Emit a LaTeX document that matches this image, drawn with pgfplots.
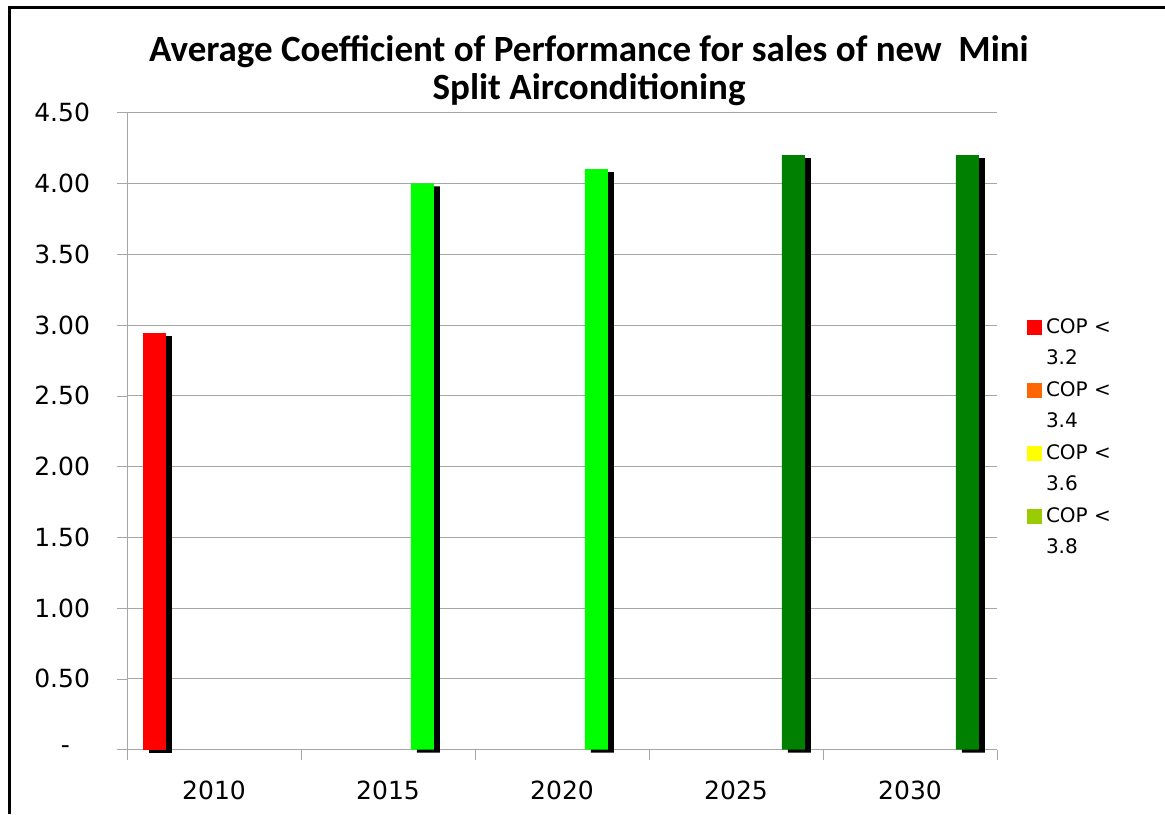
\documentclass[border=0pt]{standalone}
\usepackage{fontspec}
\setmainfont{DejaVu Sans}
\newfontfamily\titlefont{Carlito}
\usepackage{pgfplots}
\pgfplotsset{compat=1.18}
\definecolor{cRed}{HTML}{FF0000}
\definecolor{cOrange}{HTML}{FF6600}
\definecolor{cYellow}{HTML}{FFFF00}
\definecolor{cYG}{HTML}{99CC00}
\definecolor{cLG}{HTML}{00FF00}
\definecolor{cDG}{HTML}{008000}
\definecolor{cGrid}{HTML}{A6A6A6}
\pgfplotsset{sqleg/.style={legend image code/.code={\fill[draw=none] (0pt,4pt) rectangle (7.5pt,11.5pt);}}}
\begin{document}
\begin{tikzpicture}[x=1pt,y=1pt]
\useasboundingbox (0,0) rectangle (582.5,407);
\draw[line width=1.5pt] (4.5,0) -- (4.5,403) -- (582.5,403);
\node[font=\titlefont\bfseries\fontsize{18.5}{19}\selectfont, align=center] at (294.5,371.5) {Average Coefficient of Performance for sales of new\ \ Mini\\Split Airconditioning};
\begin{axis}[
  at={(73,45.5)}, anchor=south west, scale only axis,
  width=435pt, height=318.5pt,
  xmin=-0.5, xmax=4.5, ymin=0, ymax=4.5,
  clip=false,
  axis x line=bottom, axis y line=left,
  axis line style={-, draw=cGrid},
  tick align=outside, major tick length=5pt,
  tick style={draw=cGrid},
  ymajorgrids, major grid style={draw=cGrid},
  ytick={0,0.5,1,1.5,2,2.5,3,3.5,4,4.5},
  yticklabels={-\hspace*{10pt},0.50,1.00,1.50,2.00,2.50,3.00,3.50,4.00,4.50},
  yticklabel style={font=\fontsize{12.5}{14}\selectfont, xshift=-10pt},
  xtick={-0.5,0.5,1.5,2.5,3.5,4.5},
  xticklabels={},
  extra x ticks={0,1,2,3,4},
  extra x tick labels={2010,2015,2020,2025,2030},
  extra x tick style={grid=none, major tick length=0pt, tick style={draw=none},
     tick label style={font=\fontsize{12.5}{14}\selectfont, yshift=-12pt}},
  legend style={draw=none, fill=none, at={(1.034,0.683)}, anchor=north west,
     inner sep=0pt, cells={anchor=west, align=left},
     font=\fontsize{10}{15.5}\selectfont, row sep=3pt},
]
% shadows
\addplot[ybar, bar width=11.5pt, bar shift=-26.75pt, fill=black, draw=none, yshift=-1.5pt, forget plot] coordinates {(0,2.94)};
\addplot[ybar, bar width=11.5pt, bar shift=20.2pt, fill=black, draw=none, yshift=-1.5pt, forget plot] coordinates {(1,4.00) (2,4.10)};
\addplot[ybar, bar width=11.5pt, bar shift=31.7pt, fill=black, draw=none, yshift=-1.5pt, forget plot] coordinates {(3,4.20) (4,4.20)};
% bars
\addplot[ybar, bar width=11.5pt, bar shift=-29.75pt, fill=cRed, draw=none, sqleg] coordinates {(0,2.94)};
\addlegendentry{COP <\\3.2}
\addlegendimage{fill=cOrange, draw=none, sqleg}
\addlegendentry{COP <\\3.4}
\addlegendimage{fill=cYellow, draw=none, sqleg}
\addlegendentry{COP <\\3.6}
\addlegendimage{fill=cYG, draw=none, sqleg}
\addlegendentry{COP <\\3.8}
\addplot[ybar, bar width=11.5pt, bar shift=17.2pt, fill=cLG, draw=none, forget plot] coordinates {(1,4.00) (2,4.10)};
\addplot[ybar, bar width=11.5pt, bar shift=28.7pt, fill=cDG, draw=none, forget plot] coordinates {(3,4.20) (4,4.20)};
\end{axis}
\end{tikzpicture}
\end{document}
